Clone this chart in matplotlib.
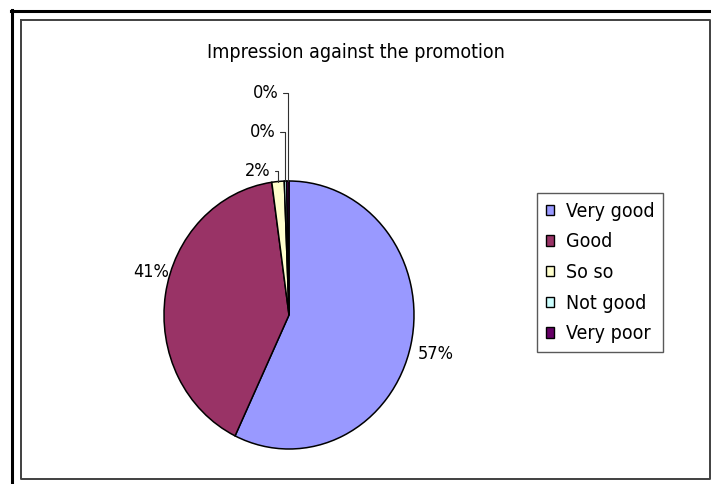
import matplotlib
matplotlib.use("Agg")
import matplotlib.pyplot as plt
from matplotlib.lines import Line2D
import numpy as np

categories = ["Very good", "Good", "So so", "Not good", "Very poor"]
shares = [57.1, 40.7, 1.6, 0.3, 0.3]
colors = ["#9999FF", "#993366", "#FFFFCC", "#CCFFFF", "#660066"]
title = "Impression against the promotion"

W, H = 711, 484
plt.rcParams["font.family"] = ["DejaVu Sans"]
plt.rcParams["font.stretch"] = "condensed"
FS = 14       # title / legend
FS_LAB = 13   # slice percentages

fig = plt.figure(figsize=(W / 100, H / 100), dpi=100)
fig.patch.set_facecolor("white")


def fx(px):
    return px / W


def fy(py):
    return 1 - py / H


# outer sheet frame (left/top) and chart-area frame
fig.add_artist(Line2D([fx(12), fx(12)], [fy(10), fy(484)], color="black", lw=2.2))
fig.add_artist(Line2D([fx(11), fx(711)], [fy(11), fy(11)], color="black", lw=2.2))
fig.add_artist(Line2D([fx(21), fx(709.5), fx(709.5), fx(21), fx(21)],
                      [fy(20), fy(20), fy(479), fy(479), fy(20)],
                      color="#404040", lw=1.4))

# pie axes: elliptical pie (taller in pixels than wide)
cx, cy, rx, ry = 289, 315, 125, 134
ax = fig.add_axes([fx(cx - rx), fy(cy + ry), 2 * rx / W, 2 * ry / H])

wedges, _ = ax.pie(shares, colors=colors, startangle=90, counterclock=False,
                   radius=1.0,
                   wedgeprops=dict(edgecolor="black", linewidth=1.1))
ax.set_xlim(-1, 1)
ax.set_ylim(-1, 1)
ax.set_aspect("auto")
ax.axis("off")
for w in wedges:
    w.set_clip_on(False)

total = sum(shares)
labels = [f"{v / total * 100:.0f}%" for v in shares]

# label centres in pixel space; small slices get elbow leader lines
label_pos = [(436, 354, False),
             (151, 272, False),
             (258, 171, True),
             (263, 132, True),
             (266, 93, True)]

for w, lab, (px, py, leader) in zip(wedges, labels, label_pos):
    mid = np.deg2rad((w.theta1 + w.theta2) / 2)
    edge = (np.cos(mid), np.sin(mid))
    if leader:
        ax.annotate(lab, xy=edge, xycoords="data",
                    xytext=(fx(px), fy(py)), textcoords="figure fraction",
                    ha="center", va="center", fontsize=FS_LAB, annotation_clip=False,
                    arrowprops=dict(arrowstyle="-", color="#303030", lw=0.8,
                                    shrinkA=1, shrinkB=0, relpos=(1, 0.5),
                                    connectionstyle="angle,angleA=0,angleB=90,rad=0"))
    else:
        fig.text(fx(px), fy(py), lab, ha="center", va="center", fontsize=FS_LAB)

fig.text(fx(356), fy(52), title, ha="center", va="center", fontsize=FS)

leg = fig.legend(wedges, categories, loc="upper left",
                 bbox_to_anchor=(fx(537), fy(193)),
                 frameon=True, fancybox=False, shadow=False,
                 fontsize=FS, handlelength=0.42, handleheight=0.42,
                 handletextpad=0.6, labelspacing=0.6,
                 borderpad=0.45, borderaxespad=0)
leg.get_frame().set_edgecolor("#303030")
leg.get_frame().set_linewidth(1.0)
for h in leg.legend_handles:
    h.set_edgecolor("black")
    h.set_linewidth(1.0)

fig.savefig("out.png", dpi=100)
